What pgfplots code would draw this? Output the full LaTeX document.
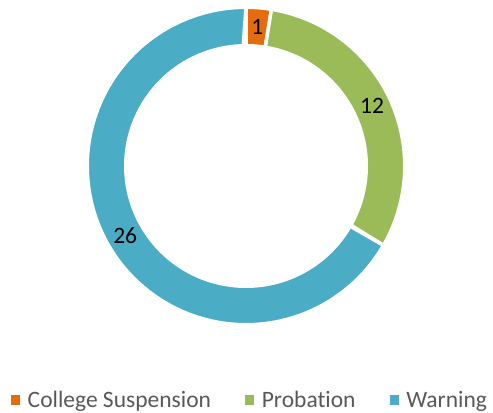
\documentclass[border=0pt]{standalone}
\usepackage{pgfplots}
\usepackage{pgfplotstable}
\usepackage{fontspec}
\setmainfont{Carlito}[Ligatures={NoCommon}]
\pgfplotsset{compat=1.18}
\definecolor{cOrange}{HTML}{E46C0A}
\definecolor{cGreen}{HTML}{9BBB59}
\definecolor{cBlue}{HTML}{4BACC6}
\definecolor{legtext}{HTML}{595959}
\pgfplotstableread{
label value
Suspension 1
Probation 12
Warning 26
}\data
\pgfplotstablegetelem{0}{value}\of\data \let\va\pgfplotsretval
\pgfplotstablegetelem{1}{value}\of\data \let\vb\pgfplotsretval
\pgfplotstablegetelem{2}{value}\of\data \let\vc\pgfplotsretval
\pgfmathsetmacro{\tot}{\va+\vb+\vc}
\pgfmathsetmacro{\aA}{90}
\pgfmathsetmacro{\aB}{90-360*\va/\tot}
\pgfmathsetmacro{\aC}{\aB-360*\vb/\tot}
\pgfmathsetmacro{\aD}{\aC-360*\vc/\tot}
\def\Ro{158.75}
\def\Ri{120.25}
\def\Rl{139.5}
\begin{document}
\begin{tikzpicture}
\begin{axis}[
  name=ax,
  scale only axis, width=493bp, height=413bp,
  xmin=-246, xmax=247, ymin=-247, ymax=166,
  hide axis, clip=false,
  domain=0:2, samples=361, variable=\t,
  every axis plot/.append style={draw=white, line width=3.5bp},
  legend columns=3,
  legend style={draw=none, fill=none, at={(axis cs:-235,-234)}, anchor=west,
    font=\fontsize{23.5bp}{28bp}\selectfont, text=legtext,
    inner sep=0pt, outer sep=0pt,
    nodes={inner sep=0pt},
    /tikz/every even column/.append style={column sep=34bp}},
  legend image code/.code={\fill[#1, draw=none] (0bp,-4.5bp) rectangle (9bp,4.5bp); \path (15bp,0);},
]
\addplot[fill=cOrange] ({ifthenelse(\t<=1,\Ro,\Ri)*cos(\aA+(\aB-\aA)*(1-abs(1-\t)))},{ifthenelse(\t<=1,\Ro,\Ri)*sin(\aA+(\aB-\aA)*(1-abs(1-\t)))}) -- cycle;
\addlegendentry{College Suspension}
\addplot[fill=cGreen] ({ifthenelse(\t<=1,\Ro,\Ri)*cos(\aB+(\aC-\aB)*(1-abs(1-\t)))},{ifthenelse(\t<=1,\Ro,\Ri)*sin(\aB+(\aC-\aB)*(1-abs(1-\t)))}) -- cycle;
\addlegendentry{Probation}
\addplot[fill=cBlue] ({ifthenelse(\t<=1,\Ro,\Ri)*cos(\aC+(\aD-\aC)*(1-abs(1-\t)))},{ifthenelse(\t<=1,\Ro,\Ri)*sin(\aC+(\aD-\aC)*(1-abs(1-\t)))}) -- cycle;
\addlegendentry{Warning}
\pgfmathsetmacro{\mA}{(\aA+\aB)/2}
\pgfmathsetmacro{\mB}{(\aB+\aC)/2}
\pgfmathsetmacro{\mC}{(\aC+\aD)/2}
\node[font=\fontsize{23.5bp}{28bp}\selectfont] at (axis cs:{\Rl*cos(\mA)},{\Rl*sin(\mA)}) {\va};
\node[font=\fontsize{23.5bp}{28bp}\selectfont] at (axis cs:{\Rl*cos(\mB)},{\Rl*sin(\mB)}) {\vb};
\node[font=\fontsize{23.5bp}{28bp}\selectfont] at (axis cs:{\Rl*cos(\mC)},{\Rl*sin(\mC)}) {\vc};
\end{axis}
\pgfresetboundingbox
\path[use as bounding box] (ax.south west) rectangle (ax.north east);
\end{tikzpicture}
\end{document}
